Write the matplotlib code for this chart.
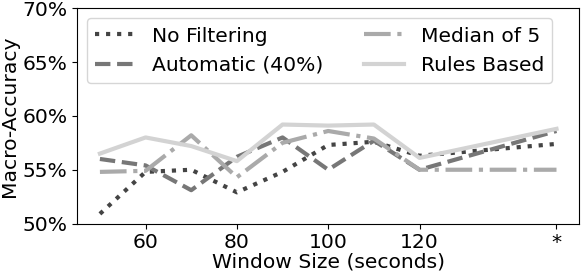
import numpy as np
import matplotlib.pyplot as plt
from matplotlib.ticker import PercentFormatter

windows = [50, 60, 70, 80, 90, 100, 110, 120, 150]
no_filter = [50.9, 54.8, 55.0, 52.9, 54.8, 57.3, 57.6, 56.3, 57.4]
automatic = [56.0, 55.4, 53.1, 56.2, 58.0, 55.0, 57.7, 55.0, 58.6]
median5 = [54.8, 54.9, 58.2, 54.3, 57.5, 58.6, 57.9, 55.0, 55.0]
rules = [56.5, 58.0, 57.2, 55.8, 59.2, 59.1, 59.2, 56.1, 58.8]
xtick_vals = [60, 80, 100, 120, 150]
xtick_labels = ['60', '80', '100', '120', '*']

plt.rcParams['font.size'] = 14.6
fig, ax = plt.subplots(figsize=(5.84, 2.76), dpi=100)
ax.plot(windows, no_filter, ls=':', color='#444444', lw=3, label='No Filtering')
ax.plot(windows, automatic, ls='--', color='#777777', lw=3, label='Automatic (40%)')
ax.plot(windows, median5, ls='-.', color='#aaaaaa', lw=3, label='Median of 5')
ax.plot(windows, rules, ls='-', color='#d3d3d3', lw=3, label='Rules Based')

ax.set_ylim(50, 70)
ax.set_yticks([50, 55, 60, 65, 70])
ax.yaxis.set_major_formatter(PercentFormatter(decimals=0))
ax.set_xticks(xtick_vals)
ax.set_xticklabels(xtick_labels)
ax.set_xlabel('Window Size (seconds)', labelpad=0)
ax.set_ylabel('Macro-Accuracy', labelpad=2)
ax.legend(ncol=2, loc='upper left', handlelength=2.0, borderaxespad=0.5)
fig.subplots_adjust(left=0.132, right=0.992, top=0.97, bottom=0.19)
fig.savefig('out.png')
